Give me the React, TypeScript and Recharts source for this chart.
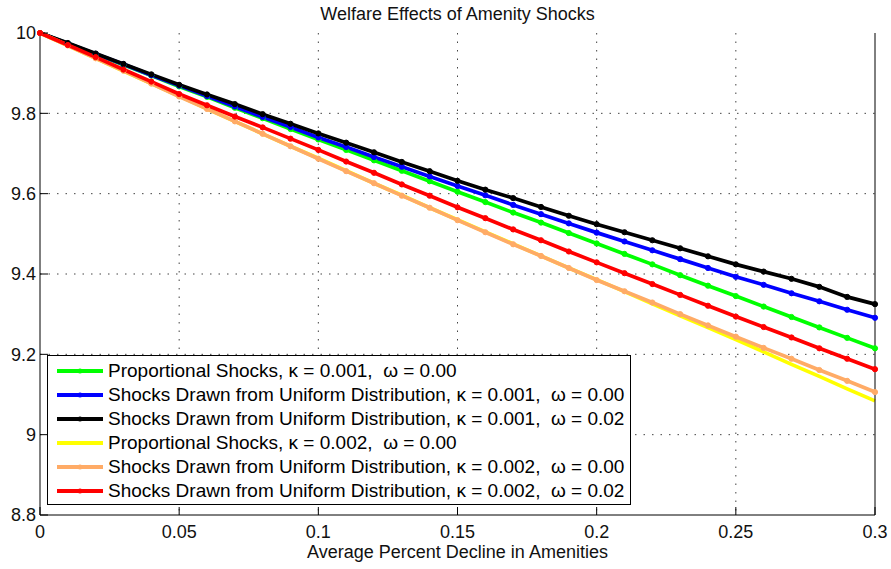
import React from "react";
import {
  LineChart,
  Line,
  XAxis,
  YAxis,
  CartesianGrid,
  Legend,
  Label,
} from "recharts";

// x positions (average percent decline in amenities)
const declines = [
  0, 0.01, 0.02, 0.03, 0.04, 0.05, 0.06, 0.07, 0.08, 0.09, 0.1, 0.11, 0.12, 0.13, 0.14, 0.15,
  0.16, 0.17, 0.18, 0.19, 0.2, 0.21, 0.22, 0.23, 0.24, 0.25, 0.26, 0.27, 0.28, 0.29, 0.3,
];

const propK1 = [
  10, 9.974, 9.947, 9.921, 9.894, 9.867, 9.841, 9.814, 9.788, 9.761, 9.735, 9.709, 9.683, 9.657,
  9.631, 9.605, 9.579, 9.553, 9.528, 9.502, 9.476, 9.45, 9.424, 9.397, 9.371, 9.345, 9.319, 9.293,
  9.267, 9.241, 9.215,
];
const unifK1W0 = [
  10, 9.974, 9.948, 9.922, 9.895, 9.869, 9.843, 9.817, 9.791, 9.766, 9.74, 9.716, 9.691, 9.667,
  9.643, 9.619, 9.596, 9.572, 9.549, 9.526, 9.503, 9.481, 9.459, 9.437, 9.415, 9.393, 9.373, 9.352,
  9.332, 9.311, 9.291,
];
const unifK1W2 = [
  10, 9.975, 9.949, 9.923, 9.897, 9.871, 9.847, 9.823, 9.798, 9.774, 9.75, 9.727, 9.703, 9.679,
  9.656, 9.632, 9.61, 9.589, 9.567, 9.545, 9.524, 9.504, 9.484, 9.464, 9.444, 9.424, 9.406, 9.388,
  9.368, 9.343, 9.325,
];
const propK2 = [
  10, 9.969, 9.937, 9.905, 9.874, 9.843, 9.811, 9.78, 9.749, 9.718, 9.688, 9.657, 9.626, 9.596,
  9.565, 9.535, 9.505, 9.475, 9.445, 9.415, 9.386, 9.356, 9.326, 9.296, 9.267, 9.237, 9.206, 9.175,
  9.145, 9.114, 9.084,
];
const unifK2W0 = [
  10, 9.969, 9.937, 9.906, 9.874, 9.842, 9.811, 9.78, 9.749, 9.718, 9.687, 9.656, 9.626, 9.595,
  9.565, 9.534, 9.504, 9.474, 9.445, 9.415, 9.385, 9.357, 9.329, 9.3, 9.272, 9.244, 9.216, 9.189,
  9.161, 9.134, 9.106,
];
const unifK2W2 = [
  10, 9.97, 9.94, 9.909, 9.879, 9.848, 9.82, 9.792, 9.765, 9.737, 9.709, 9.68, 9.652, 9.623, 9.595,
  9.566, 9.539, 9.511, 9.484, 9.456, 9.429, 9.402, 9.375, 9.348, 9.321, 9.294, 9.268, 9.242, 9.215,
  9.189, 9.163,
];

const xTicks = [0, 0.05, 0.1, 0.15, 0.2, 0.25, 0.3];
const yTicks = [8.8, 9, 9.2, 9.4, 9.6, 9.8, 10];

const series = [
  { key: "propK1", name: "Proportional Shocks, κ = 0.001,  ω = 0.00", color: "#00ff00", dots: true },
  { key: "unifK1W0", name: "Shocks Drawn from Uniform Distribution, κ = 0.001,  ω = 0.00", color: "#0000ff", dots: true },
  { key: "unifK1W2", name: "Shocks Drawn from Uniform Distribution, κ = 0.001,  ω = 0.02", color: "#000000", dots: true },
  { key: "propK2", name: "Proportional Shocks, κ = 0.002,  ω = 0.00", color: "#ffff00", dots: false },
  { key: "unifK2W0", name: "Shocks Drawn from Uniform Distribution, κ = 0.002,  ω = 0.00", color: "#ffab66", dots: true },
  { key: "unifK2W2", name: "Shocks Drawn from Uniform Distribution, κ = 0.002,  ω = 0.02", color: "#ff0000", dots: true },
];

const data = declines.map((x, i) => ({
  x,
  propK1: propK1[i],
  unifK1W0: unifK1W0[i],
  unifK1W2: unifK1W2[i],
  propK2: propK2[i],
  unifK2W0: unifK2W0[i],
  unifK2W2: unifK2W2[i],
}));

const font = "'Liberation Sans', Arial, Helvetica, sans-serif";
const tickStyle = { fontSize: 18, fill: "#111", fontFamily: font };

function LegendBox() {
  return (
    <div
      style={{
        width: 584,
        height: 150,
        border: "1px solid #000",
        background: "#fff",
        boxSizing: "border-box",
        paddingTop: 3,
        fontFamily: font,
      }}
    >
      {series.map((s) => (
        <div key={s.key} style={{ display: "flex", alignItems: "center", height: 24 }}>
          <svg width={60} height={24} style={{ flex: "none" }}>
            <line x1={9} x2={55} y1={12} y2={12} stroke={s.color} strokeWidth={4} />
            {s.dots && <circle cx={32} cy={12} r={2.5} fill={s.color} />}
          </svg>
          <span style={{ fontSize: 19, whiteSpace: "pre", color: "#000" }}>{s.name}</span>
        </div>
      ))}
    </div>
  );
}

export default function App() {
  return (
    <div style={{ position: "absolute", left: 0, top: 0, width: 891, height: 569, background: "#fff" }}>
      <div
        style={{
          position: "absolute",
          left: 40,
          width: 835,
          top: 3,
          textAlign: "center",
          fontFamily: font,
          fontSize: 18,
          color: "#111",
          lineHeight: "22px",
        }}
      >
        Welfare Effects of Amenity Shocks
      </div>
      <LineChart width={891} height={569} data={data} margin={{ top: 33, right: 0, bottom: 0, left: 0 }}>
        <CartesianGrid
          stroke="#444"
          strokeDasharray="1.5 7"
          horizontalValues={[9, 9.2, 9.4, 9.6, 9.8]}
          verticalValues={[0.05, 0.1, 0.15, 0.2, 0.25]}
        />
        <XAxis
          dataKey="x"
          type="number"
          domain={[0, 0.3]}
          ticks={xTicks}
          height={54}
          stroke="#000"
          tickSize={-8}
          tickMargin={18}
          tick={tickStyle}
          fontSize={18}
          fontFamily={font}
          interval={0}
        >
          <Label
            value="Average Percent Decline in Amenities"
            position="insideBottom"
            offset={11}
            style={{ fontSize: 18, fill: "#111", fontFamily: font }}
          />
        </XAxis>
        <XAxis
          xAxisId="top"
          orientation="top"
          dataKey="x"
          type="number"
          domain={[0, 0.3]}
          ticks={xTicks}
          height={0}
          stroke="#000"
          tickSize={-8}
          tickFormatter={() => ""}
          interval={0}
        />
        <YAxis
          type="number"
          domain={[8.8, 10]}
          ticks={yTicks}
          width={40}
          stroke="#000"
          tickSize={-8}
          tickMargin={12}
          tick={tickStyle}
          fontSize={18}
          fontFamily={font}
          interval={0}
        />
        <YAxis
          yAxisId="right"
          orientation="right"
          type="number"
          domain={[8.8, 10]}
          ticks={yTicks}
          width={16}
          stroke="#000"
          tickSize={-8}
          tickFormatter={() => ""}
          interval={0}
        />
        <Legend
          layout="horizontal"
          verticalAlign="middle"
          align="center"
          wrapperStyle={{ left: 47, top: 355, width: 584, height: 150 }}
          content={() => <LegendBox />}
        />
        {series.map((s) => (
          <Line
            key={s.key}
            dataKey={s.key}
            name={s.name}
            type="linear"
            stroke={s.color}
            strokeWidth={3.7}
            dot={s.dots ? { r: 2.6, fill: s.color, stroke: s.color, strokeWidth: 1 } : false}
            isAnimationActive={false}
          />
        ))}
      </LineChart>
    </div>
  );
}
